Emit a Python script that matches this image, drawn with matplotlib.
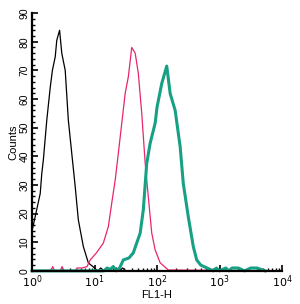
"""
Flow cytometry histogram overlay: FL1-H (log) vs counts, three samples.
"""

import matplotlib
matplotlib.use("Agg")
import matplotlib.pyplot as plt
import numpy as np
from matplotlib.ticker import LogLocator, MultipleLocator, NullFormatter

plt.rcParams["font.family"] = ["Liberation Sans", "DejaVu Sans"]

# log10(FL1-H) positions and counts
black_log = [0.0, 0.05, 0.13, 0.155, 0.18, 0.235, 0.29, 0.325, 0.37, 0.395, 0.44,
             0.475, 0.53, 0.58, 0.635, 0.69, 0.74, 0.82, 0.9, 1.0, 1.05, 1.1,
             1.15, 1.2, 1.25, 1.3, 1.35, 1.4, 1.45, 1.5, 1.57]
black_cnt = [14, 19, 27, 34, 38.7, 52.6, 64, 70, 74.7, 80.5, 84,
             76, 70, 52.6, 41, 29.4, 17.8, 8.5, 2.8, 1, 0, 1,
             0, 1, 0, 0, 1, 0, 1, 0, 0]

pink_log = [0.0, 0.3, 0.33, 0.36, 0.45, 0.48, 0.51, 0.7, 0.72, 0.8, 0.88, 0.93,
            1.03, 1.14, 1.22, 1.275, 1.33, 1.38, 1.435, 1.49, 1.54, 1.595,
            1.65, 1.70, 1.755, 1.81, 1.86, 1.915, 1.97, 2.05, 2.18, 4.0]
pink_cnt = [0, 0, 1.5, 0, 0, 1.5, 0, 0, 1, 1, 1.5, 3.8,
            6.3, 9.7, 15.4, 23.7, 31.7, 41, 51.5, 62, 67.7, 78,
            76, 69, 55, 37.6, 25.9, 13.2, 7.3, 2.8, 0.3, 0]

green_log = [0.0, 1.15, 1.2, 1.25, 1.3, 1.35, 1.4, 1.46, 1.55, 1.62, 1.73, 1.78,
             1.835, 1.89, 1.97, 2.0, 2.075, 2.155, 2.21, 2.29, 2.37, 2.42, 2.5,
             2.58, 2.635, 2.7, 2.8, 2.9, 2.95, 3.0, 3.1, 3.15, 3.2, 3.3, 3.4,
             3.5, 3.6, 3.73]
green_cnt = [0, 0, 1, 0.5, 1.5, 0, 1, 3.8, 4.5, 6.3, 13.2, 21.3,
             37.6, 44.6, 51.6, 57.2, 65.4, 71.5, 61.9, 56, 43.3, 30.5, 18.9,
             8.5, 3.8, 2, 1, 0, 1, 0, 1, 0, 1, 1, 0, 1, 1, 0]

x_ticks = [1, 10, 100, 1000, 10000]
x_labels = [r"$10^0$", r"$10^1$", r"$10^2$", r"$10^3$", r"$10^4$"]
y_ticks = [0, 10, 20, 30, 40, 50, 60, 70, 80, 90]

fig = plt.figure(figsize=(3.0, 3.04), dpi=100)
ax = fig.add_axes([0.107, 0.109, 0.833, 0.848])

ax.plot(10 ** np.array(black_log), black_cnt, color="black", lw=0.9, clip_on=False)
ax.plot(10 ** np.array(pink_log), pink_cnt, color="#e8256f", lw=0.9, clip_on=False)
ax.plot(10 ** np.array(green_log), green_cnt, color="#17a083", lw=2.2, clip_on=False)

ax.set_xscale("log")
ax.set_xlim(1, 1e4)
ax.set_ylim(0, 90)
ax.set_xticks(x_ticks)
ax.set_xticklabels(x_labels, fontsize=8)
ax.xaxis.set_minor_locator(LogLocator(base=10, subs=np.arange(2, 10)))
ax.xaxis.set_minor_formatter(NullFormatter())
ax.set_yticks(y_ticks)
ax.set_yticklabels([str(v) for v in y_ticks], fontsize=7.5, rotation=90, va="center")
ax.yaxis.set_minor_locator(MultipleLocator(2))

for side in ("top", "right"):
    ax.spines[side].set_visible(False)
for side in ("left", "bottom"):
    ax.spines[side].set_linewidth(1.6)

ax.tick_params(which="major", direction="in", length=4, width=1.2, pad=2)
ax.tick_params(which="minor", direction="in", length=2.5, width=1.0)

ax.set_xlabel("FL1-H", fontsize=8, labelpad=0)
ax.set_ylabel("Counts", fontsize=8, labelpad=1)

fig.savefig("out.png", dpi=100)
